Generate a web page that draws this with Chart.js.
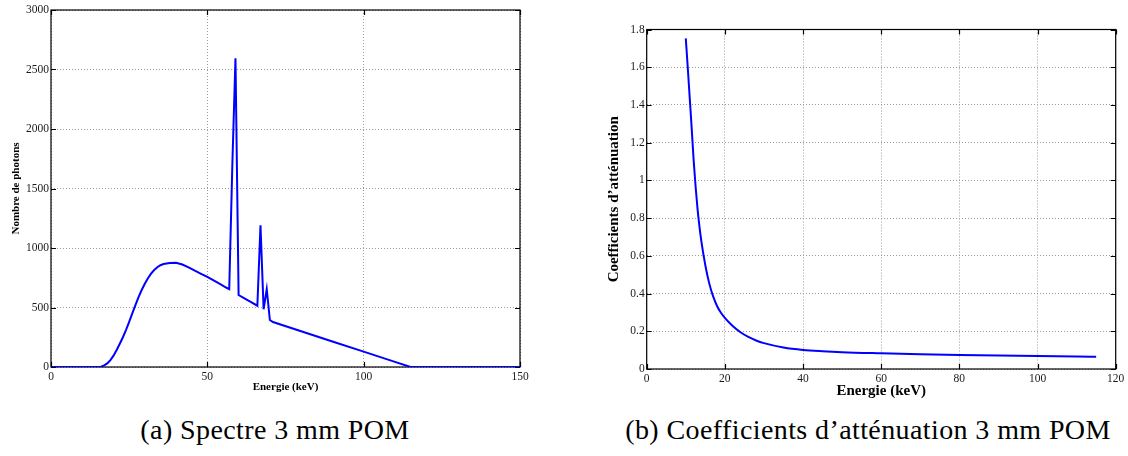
<!DOCTYPE html>
<html lang="fr">
<head>
    <meta charset="UTF-8">
    <title>Spectre et coefficients d'atténuation - 3 mm POM</title>
    <style>
        body {
            margin: 0;
            width: 1128px;
            height: 456px;
            background: #fff;
            position: relative;
            overflow: hidden;
        }

        canvas {
            position: absolute;
            top: 0;
        }

        #spectre {
            left: 0;
        }

        #attenuation {
            left: 560px;
        }

        .caption {
            position: absolute;
            top: 415px;
            transform: translateX(-50%);
            font-family: 'Liberation Serif', 'Times New Roman', serif;
            font-size: 28px;
            line-height: 30px;
            letter-spacing: 0.4px;
            white-space: nowrap;
            color: #000;
        }
    </style>
    <script src="https://cdn.jsdelivr.net/npm/chart.js"></script>
</head>
<body>

    <canvas id="spectre" width="540" height="400"></canvas>
    <canvas id="attenuation" width="568" height="400"></canvas>
    <div class="caption" style="left: 275px;">(a) Spectre 3 mm POM</div>
    <div class="caption" style="left: 868px;">(b) Coefficients d’atténuation 3 mm POM</div>

<script>
    // (a) spectre : énergie (keV) / nombre de photons
    const spectreEnergie = [0, 15, 16, 17, 18, 19, 20, 21, 22, 23, 24, 25, 26, 27, 28, 29, 30, 31, 32, 33, 34, 35, 36, 38,
        40, 42, 44, 46, 48, 50, 52, 54, 56, 57, 58, 59, 60, 62, 64, 66, 67, 68, 69, 70, 71, 80, 90, 100, 110, 115, 150];
    const spectrePhotons = [0, 0, 3, 14, 30, 58, 95, 143, 195, 250, 312, 380, 450, 520, 587, 647, 700, 746, 785, 815, 838, 855, 865, 874,
        876, 861, 837, 809, 783, 757, 727, 698, 668, 655, 1700, 2594, 605, 575, 545, 515, 1190, 485, 655, 395, 378, 300, 214, 129, 43, 0, 0];
    const spectreTicksX = [0, 50, 100, 150];
    const spectreTicksY = [0, 500, 1000, 1500, 2000, 2500, 3000];

    // (b) coefficients d'atténuation
    const attEnergie = [10, 10.5, 11, 11.5, 12, 12.5, 13, 13.5, 14, 15, 16, 17, 18, 19, 20, 22, 24, 26, 28, 30,
        35, 40, 45, 50, 60, 70, 80, 90, 100, 110, 115];
    const attCoeff = [1.753, 1.60, 1.44, 1.28, 1.11, 0.97, 0.85, 0.755, 0.675, 0.55, 0.454, 0.385, 0.334, 0.298, 0.271, 0.228, 0.195, 0.170, 0.151, 0.137,
        0.114, 0.101, 0.094, 0.089, 0.083, 0.078, 0.074, 0.071, 0.069, 0.066, 0.065];
    const attTicksX = [0, 20, 40, 60, 80, 100, 120];
    const attTicksY = [0, 0.2, 0.4, 0.6, 0.8, 1, 1.2, 1.4, 1.6, 1.8];

    Chart.defaults.font.family = "'Liberation Serif', 'Times New Roman', serif";
    Chart.defaults.color = '#1a1a1a';

    // cadre noir + graduations vers l'intérieur (style matlab)
    const cadre = {
        id: 'cadre',
        beforeDatasetsDraw(chart) {
            const {ctx, chartArea: a, scales: {x, y}} = chart;
            const len = 5;
            ctx.save();
            ctx.strokeStyle = '#000';
            ctx.lineWidth = 1.2;
            ctx.strokeRect(a.left, a.top, a.right - a.left, a.bottom - a.top);
            ctx.beginPath();
            x.ticks.forEach(t => {
                const px = Math.round(x.getPixelForValue(t.value)) + 0.5;
                ctx.moveTo(px, a.bottom); ctx.lineTo(px, a.bottom - len);
                ctx.moveTo(px, a.top); ctx.lineTo(px, a.top + len);
            });
            y.ticks.forEach(t => {
                const py = Math.round(y.getPixelForValue(t.value)) + 0.5;
                ctx.moveTo(a.left, py); ctx.lineTo(a.left + len, py);
                ctx.moveTo(a.right, py); ctx.lineTo(a.right - len, py);
            });
            ctx.stroke();
            ctx.restore();
        }
    };

    const grille = {
        color: '#9a9a9a',
        lineWidth: 1,
        drawTicks: false,
        tickBorderDash: [1, 2]
    };

    function axe(min, max, ticks, opts) {
        return {
            type: 'linear',
            min: min,
            max: max,
            afterBuildTicks: s => { s.ticks = ticks.map(v => ({value: v})); },
            afterFit: s => { if (opts.width) s.width = opts.width; if (opts.height) s.height = opts.height; },
            border: {display: false, dash: [1, 2]},
            grid: grille,
            ticks: {
                padding: opts.pad,
                autoSkip: false,
                maxRotation: 0,
                font: {size: opts.tickSize},
                callback: v => String(Number(v.toFixed(1)))
            },
            title: {
                display: true,
                text: opts.title,
                color: '#000',
                font: {size: opts.titleSize, weight: 'bold'},
                padding: opts.titlePad
            }
        };
    }

    function trace(id, xs, ys, smooth, padding, scales) {
        return new Chart(document.getElementById(id), {
            type: 'line',
            data: {
                datasets: [{
                    data: xs.map((x, i) => ({x: x, y: ys[i]})),
                    borderColor: '#0000ff',
                    borderWidth: 2,
                    pointRadius: 0,
                    fill: false,
                    tension: 0,
                    cubicInterpolationMode: smooth ? 'monotone' : 'default'
                }]
            },
            options: {
                responsive: false,
                animation: false,
                layout: {padding: padding},
                plugins: {legend: {display: false}, tooltip: {enabled: false}},
                scales: scales
            },
            plugins: [cadre]
        });
    }

    trace('spectre', spectreEnergie, spectrePhotons, false,
        {left: 0, top: 10, right: 20, bottom: 0},
        {
            x: axe(0, 150, spectreTicksX, {height: 33, pad: 3, tickSize: 11.5, title: 'Energie (keV)', titleSize: 11, titlePad: {top: 0, bottom: 6}}),
            y: axe(0, 3000, spectreTicksY, {width: 51, pad: 2, tickSize: 11.5, title: 'Nombre de photons', titleSize: 11, titlePad: {top: 10, bottom: 0}})
        });

    trace('attenuation', attEnergie, attCoeff, true,
        {left: 0, top: 29.5, right: 12.3, bottom: 0},
        {
            x: axe(0, 120, attTicksX, {height: 31, pad: 3, tickSize: 11.5, title: 'Energie (keV)', titleSize: 15, titlePad: {top: 0, bottom: 0}}),
            y: axe(0, 1.8, attTicksY, {width: 86.7, pad: 2, tickSize: 11.5, title: 'Coefficients d’atténuation', titleSize: 15, titlePad: {top: 45, bottom: 0}})
        });
</script>

</body>
</html>
